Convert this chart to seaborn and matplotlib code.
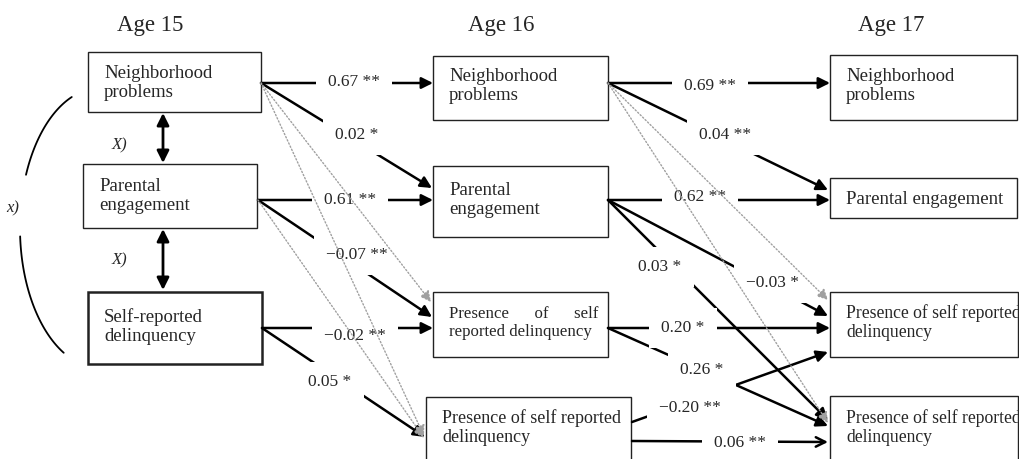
import numpy as np
import matplotlib
matplotlib.use("Agg")
import matplotlib.pyplot as plt
import seaborn as sns
from matplotlib.patches import FancyArrowPatch, Rectangle

# --- chart content -------------------------------------------------------
ages = ["Age 15", "Age 16", "Age 17"]

node_ids = ["np15", "pe15", "srd15",
            "np16", "pe16", "psrd16a", "psrd16b",
            "np17", "pe17", "psrd17a", "psrd17b"]
node_texts = ["Neighborhood\nproblems", "Parental\nengagement", "Self-reported\ndelinquency",
              "Neighborhood\nproblems", "Parental\nengagement",
              "Presence      of      self\nreported delinquency",
              "Presence of self reported\ndelinquency",
              "Neighborhood\nproblems", "Parental engagement",
              "Presence of self reported\ndelinquency",
              "Presence of self reported\ndelinquency"]

path_from = ["np15", "np15", "pe15", "pe15", "srd15", "srd15",
             "np16", "np16", "pe16", "pe16", "pe16", "psrd16a", "psrd16a", "psrd16b", "psrd16b"]
path_to = ["np16", "pe16", "pe16", "psrd16a", "psrd16a", "psrd16b",
           "np17", "pe17", "pe17", "psrd17b", "psrd17a", "psrd17a", "psrd17b", "psrd17a", "psrd17b"]
path_coef = ["0.67 **", "0.02 *", "0.61 **", "\u22120.07 **", "\u22120.02 **", "0.05 *",
             "0.69 **", "0.04 **", "0.62 **", "0.03 *", "\u22120.03 *", "0.20 *", "0.26 *",
             "\u22120.20 **", "0.06 **"]

dotted_from = ["np15", "np15", "pe15", "np16", "np16"]
dotted_to = ["psrd16a", "psrd16b", "psrd16b", "psrd17a", "psrd17b"]

corr_label = "X)"
outer_corr_label = "x)"

# --- layout (pixels, y downward) ----------------------------------------
age_pos = [(150, 25), (501, 25), (891, 25)]
boxes = {  # x0, y0, x1, y1
    "np15": (88, 52, 261, 112), "pe15": (83, 164, 257, 228), "srd15": (88, 292, 262, 364),
    "np16": (433, 56, 608, 120), "pe16": (433, 166, 608, 237),
    "psrd16a": (433, 292, 608, 357), "psrd16b": (426, 397, 631, 480),
    "np17": (830, 55, 1017, 120), "pe17": (830, 178, 1017, 218),
    "psrd17a": (830, 292, 1018, 357), "psrd17b": (830, 396, 1018, 480),
}
text_y = {"np15": 83, "pe15": 196, "srd15": 327, "np16": 86, "pe16": 200,
          "psrd16a": 323, "psrd16b": 428, "np17": 86, "pe17": 199,
          "psrd17a": 323, "psrd17b": 428}
text_size = {"psrd16a": 12.2, "psrd16b": 13, "psrd17a": 12.7, "psrd17b": 12.7}
box_lw = {"srd15": 1.8}

path_geom = [  # start, end, label position
    ((261, 83), (433, 83), (354, 82)),
    ((261, 83), (432, 188), (357, 135)),
    ((258, 200), (433, 200), (350, 200)),
    ((258, 200), (432, 317), (357, 255)),
    ((262, 328), (433, 328), (355, 336)),
    ((262, 328), (425, 437), (330, 382)),
    ((608, 83), (830, 83), (710, 86)),
    ((608, 83), (828, 190), (725, 135)),
    ((608, 200), (830, 200), (700, 197)),
    ((608, 200), (828, 420), (660, 267)),
    ((608, 200), (828, 316), (773, 283)),
    ((608, 328), (830, 328), (683, 328)),
    ((608, 328), (828, 426), (702, 370)),
    ((632, 422), (828, 352), (690, 408)),
    ((632, 441), (828, 442), (740, 443)),
]
dotted_geom = [
    ((261, 83), (431, 302)), ((261, 83), (424, 436)), ((258, 200), (424, 438)),
    ((608, 83), (828, 300)), ((608, 83), (828, 423)),
]

sns.set_theme(style="white")
plt.rcParams['font.family'] = ['Liberation Serif', 'DejaVu Serif']

fig = plt.figure(figsize=(10.19, 4.59), dpi=100)
ax = fig.add_axes([0, 0, 1, 1])
ax.set_xlim(0, 1019)
ax.set_ylim(459, 0)
ax.axis("off")

for label, (x, y) in zip(ages, age_pos):
    ax.text(x, y, label, fontsize=16.5, ha="center", va="center")

for nid, txt in zip(node_ids, node_texts):
    x0, y0, x1, y1 = boxes[nid]
    ax.add_patch(Rectangle((x0, y0), x1 - x0, y1 - y0, fc="white", ec="#222222",
                           lw=box_lw.get(nid, 1.0), zorder=1))
    ax.text(x0 + 16, text_y[nid], txt, fontsize=text_size.get(nid, 13.5),
            ha="left", va="center", linespacing=1.15, zorder=6)

# solid paths with coefficient labels sitting in a gap of the line
for coef, (p0, p1, lp) in zip(path_coef, path_geom):
    style = "->" if coef == "0.06 **" else "-|>"
    ax.add_patch(FancyArrowPatch(p0, p1, arrowstyle=style, mutation_scale=17,
                                 lw=1.8, color="black", shrinkA=0, shrinkB=0, zorder=2))
    ax.text(lp[0], lp[1], coef, fontsize=12.5, ha="center", va="center", zorder=3,
            bbox=dict(boxstyle="square,pad=0.7", fc="white", ec="none"))

# non-significant (dotted grey) paths
for p0, p1 in dotted_geom:
    ax.add_patch(FancyArrowPatch(p0, p1, arrowstyle="-|>", mutation_scale=16,
                                 lw=1.0, ls=(0, (1, 1.5)), color="#a0a0a0",
                                 shrinkA=0, shrinkB=0, zorder=4))

# correlations among age 15 variables
for (ya, yb), ly in [((113, 163), 145), ((229, 290), 260)]:
    ax.add_patch(FancyArrowPatch((163, ya), (163, yb), arrowstyle="<|-|>", mutation_scale=18,
                                 lw=2.0, color="black", shrinkA=0, shrinkB=0, zorder=2))
    ax.text(119, ly, corr_label, fontsize=12, style="italic", ha="center", va="center")

# bracket for the outer correlation
cx, cy, a, b = 100, 228, 80, 140
for t0, t1 in [(-1.21, -0.39), (0.06, 1.10)]:
    s = np.linspace(t0, t1, 60)
    ax.plot(cx - a * np.cos(s), cy + b * np.sin(s), color="black", lw=1.3)
ax.text(13, 208, outer_corr_label, fontsize=12, style="italic", ha="center", va="center")

fig.savefig("out.png", dpi=100)
